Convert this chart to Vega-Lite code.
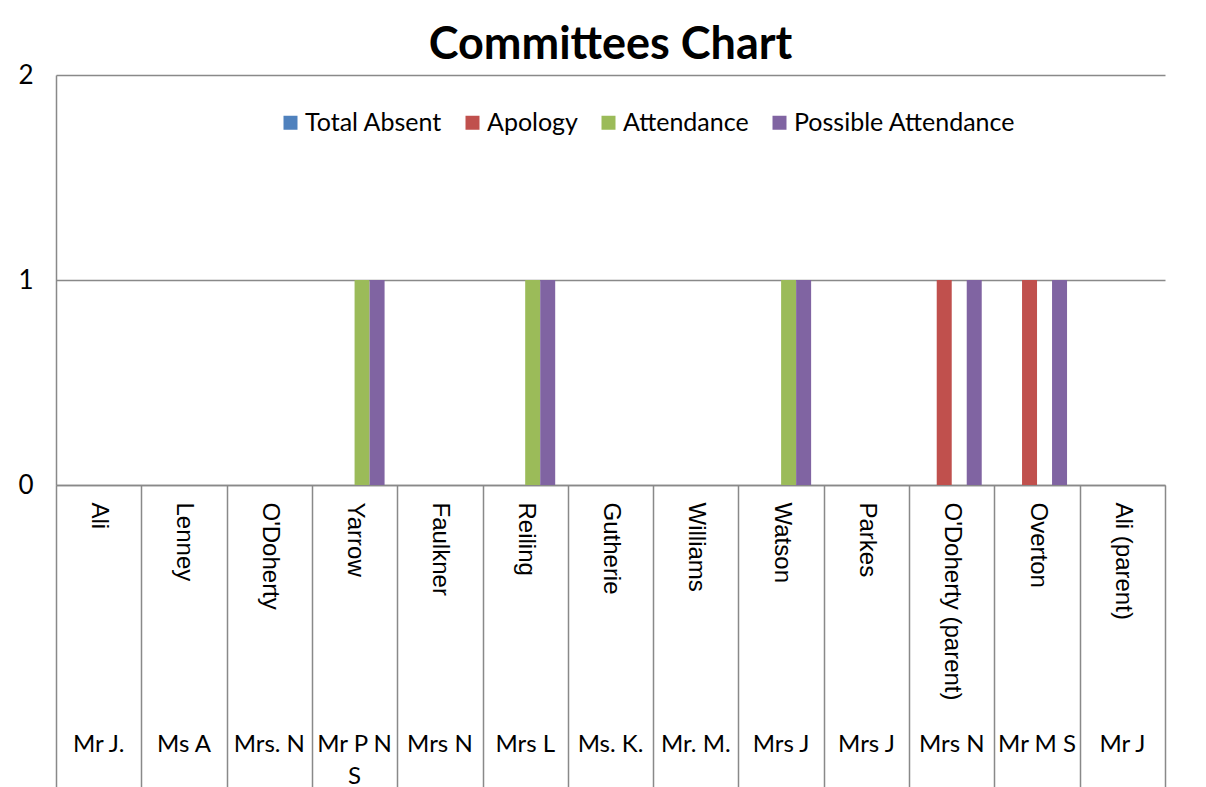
{
  "$schema": "https://vega.github.io/schema/vega-lite/v6.json",
  "width": 1109,
  "height": 410,
  "autosize": {"type": "none"},
  "padding": {"left": 56, "top": 75, "right": 41, "bottom": 302},
  "background": "white",
  "title": {"text": "Committees Chart", "font": "Lato", "fontSize": 45, "fontWeight": "bold", "color": "black", "anchor": "middle", "offset": 15, "baseline": "alphabetic", "dy": 57},
  "data": {"values": [
    {"member": "Mr J.|Ali", "Total Absent": 0, "Apology": 0, "Attendance": 0, "Possible Attendance": 0},
    {"member": "Ms A|Lenney", "Total Absent": 0, "Apology": 0, "Attendance": 0, "Possible Attendance": 0},
    {"member": "Mrs. N|O'Doherty", "Total Absent": 0, "Apology": 0, "Attendance": 0, "Possible Attendance": 0},
    {"member": "Mr P N\nS|Yarrow", "Total Absent": 0, "Apology": 0, "Attendance": 1, "Possible Attendance": 1},
    {"member": "Mrs N|Faulkner", "Total Absent": 0, "Apology": 0, "Attendance": 0, "Possible Attendance": 0},
    {"member": "Mrs L|Reiling", "Total Absent": 0, "Apology": 0, "Attendance": 1, "Possible Attendance": 1},
    {"member": "Ms. K.|Gutherie", "Total Absent": 0, "Apology": 0, "Attendance": 0, "Possible Attendance": 0},
    {"member": "Mr. M.|Williams", "Total Absent": 0, "Apology": 0, "Attendance": 0, "Possible Attendance": 0},
    {"member": "Mrs J|Watson", "Total Absent": 0, "Apology": 0, "Attendance": 1, "Possible Attendance": 1},
    {"member": "Mrs J|Parkes", "Total Absent": 0, "Apology": 0, "Attendance": 0, "Possible Attendance": 0},
    {"member": "Mrs N|O'Doherty (parent)", "Total Absent": 0, "Apology": 1, "Attendance": 0, "Possible Attendance": 1},
    {"member": "Mr M S|Overton", "Total Absent": 0, "Apology": 1, "Attendance": 0, "Possible Attendance": 1},
    {"member": "Mr J|Ali (parent)", "Total Absent": 0, "Apology": 0, "Attendance": 0, "Possible Attendance": 0}
  ]},
  "transform": [
    {"fold": ["Total Absent", "Apology", "Attendance", "Possible Attendance"], "as": ["series", "count"]}
  ],
  "layer": [
    {
      "mark": {"type": "bar"},
      "encoding": {
        "x": {
          "field": "member", "type": "nominal", "sort": null,
          "scale": {"paddingInner": 0, "paddingOuter": 0},
          "axis": {
            "orient": "bottom",
            "title": null,
            "labelExpr": "split(datum.value, '|')[1]",
            "labelAngle": 90, "labelAlign": "left", "labelBaseline": "middle",
            "labelPadding": -293,
            "labelFont": "Liberation Sans", "labelFontSize": 24, "labelColor": "black",
            "labelLimit": 0, "labelOverlap": false, "labelFlush": false,
            "tickBand": "extent", "tickSize": 310, "tickColor": "#898989", "tickWidth": 1.5,
            "domainColor": "#898989", "domainWidth": 1.5, "grid": false
          }
        },
        "xOffset": {
          "field": "series", "type": "nominal",
          "sort": ["Total Absent", "Apology", "Attendance", "Possible Attendance"],
          "scale": {"paddingInner": 0, "paddingOuter": 0.843}
        },
        "y": {
          "field": "count", "type": "quantitative",
          "scale": {"domain": [0, 2], "nice": false},
          "axis": {
            "title": null, "tickCount": 2, "format": "d",
            "grid": true, "gridColor": "#898989", "gridWidth": 1.5,
            "domain": true, "domainColor": "#898989", "domainWidth": 1.5,
            "ticks": false, "labelPadding": 38, "labelAlign": "left", "labelBaseline": "middle",
            "labelFont": "Lato", "labelFontSize": 26, "labelColor": "black", "labelOverlap": false
          }
        },
        "color": {
          "field": "series", "type": "nominal",
          "sort": ["Total Absent", "Apology", "Attendance", "Possible Attendance"],
          "scale": {
            "domain": ["Total Absent", "Apology", "Attendance", "Possible Attendance"],
            "range": ["#4F81BD", "#C0504D", "#9BBB59", "#8064A2"]
          },
          "legend": {
            "title": null, "orient": "none", "legendX": 222, "legendY": 35,
            "direction": "horizontal", "columns": 4,
            "symbolType": "square", "symbolSize": 196, "symbolStrokeWidth": 0,
            "labelFont": "Lato", "labelFontSize": 25, "labelColor": "black",
            "columnPadding": 18, "labelOffset": 2, "labelLimit": 0
          }
        }
      }
    },
    {
      "mark": {"type": "rule", "opacity": 0},
      "encoding": {
        "x": {
          "field": "member", "type": "nominal", "sort": null,
          "axis": {
            "orient": "bottom",
            "title": null,
            "labelExpr": "split(split(datum.value, '|')[0], '\\n')",
            "labelAngle": 0, "labelAlign": "center", "labelBaseline": "top",
            "labelPadding": 247, "labelLineHeight": 32,
            "ticks": false, "domain": false, "grid": false,
            "labelFont": "Lato", "labelFontSize": 24, "labelColor": "black",
            "labelLimit": 0, "labelOverlap": false, "labelFlush": false
          }
        }
      }
    }
  ],
  "resolve": {"axis": {"x": "independent"}},
  "config": {"view": {"stroke": null}}
}
